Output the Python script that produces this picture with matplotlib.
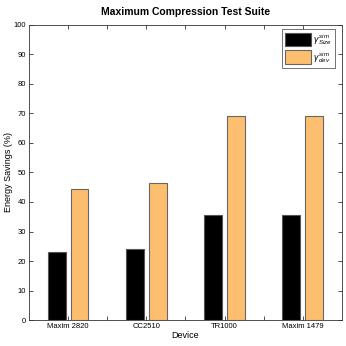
import numpy as np
import matplotlib.pyplot as plt

plt.rcParams['font.family'] = ['Liberation Sans', 'DejaVu Sans']
plt.rcParams['mathtext.fontset'] = 'custom'
plt.rcParams['mathtext.rm'] = 'Liberation Sans'
plt.rcParams['mathtext.it'] = 'Liberation Sans:italic'

devices = ['Maxim 2820', 'CC2510', 'TR1000', 'Maxim 1479']
gamma_size = [23.0, 24.0, 35.7, 35.7]
gamma_dev = [44.3, 46.4, 69.0, 69.0]

x = np.arange(1, len(devices) + 1)
w = 0.23

fig = plt.figure(figsize=(3.46, 3.46), dpi=100)
ax = fig.add_axes([0.084, 0.075, 0.904, 0.853])

ax.bar(x - 0.145, gamma_size, w, color='black', edgecolor='#555555', linewidth=0.8,
       label=r'$\gamma^{\,sim}_{\,Size}$')
ax.bar(x + 0.145, gamma_dev, w, color='#FDBF6F', edgecolor='#666666', linewidth=0.8,
       label=r'$\gamma^{\,sim}_{\,dev}$')

ax.set_xlim(0.5, 4.5)
ax.set_ylim(0, 100)
ax.set_yticks(np.arange(0, 101, 10))
ax.set_xticks(x)
ax.set_xticklabels(devices)
ax.set_xticks(np.arange(1.5, 4.5, 1), minor=True)
ax.tick_params(axis='both', which='both', direction='in', top=True, right=True,
               labelsize=5.5, length=3, width=0.6, pad=2, color='#333333')
for s in ax.spines.values():
    s.set_linewidth(0.6)
    s.set_color('#333333')

ax.set_xlabel('Device', fontsize=6.5, labelpad=1)
ax.set_ylabel('Energy Savings (%)', fontsize=6.5)
ax.yaxis.set_label_coords(-0.052, 0.5)
ax.set_title('Maximum Compression Test Suite', fontsize=7.5, fontweight='bold', pad=7)

leg = ax.legend(loc='upper right', fontsize=6.3, frameon=True, fancybox=False,
                edgecolor='#333333', handlelength=3.0, handleheight=2.0,
                borderpad=0.35, labelspacing=0.3, handletextpad=0.2,
                borderaxespad=0, bbox_to_anchor=(0.978, 0.986))
leg.get_frame().set_linewidth(0.6)

plt.savefig('out.png', dpi=100)
